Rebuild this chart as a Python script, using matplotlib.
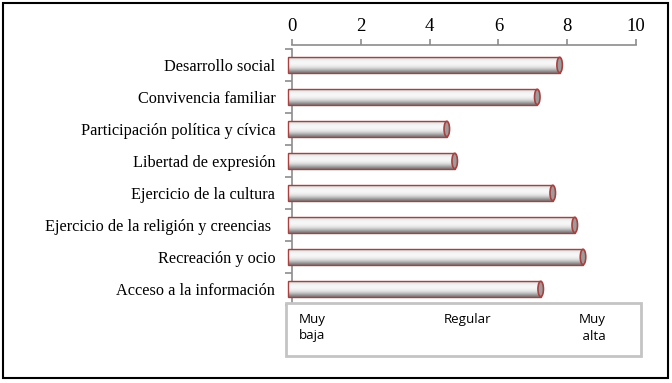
import matplotlib

matplotlib.use("Agg")
import matplotlib.pyplot as plt
import numpy as np
from matplotlib.patches import Ellipse, Rectangle

categories = [
    "Desarrollo social",
    "Convivencia familiar",
    "Participación política y cívica",
    "Libertad de expresión",
    "Ejercicio de la cultura",
    "Ejercicio de la religión y creencias ",
    "Recreación y ocio",
    "Acceso a la información",
]
values = [7.9, 7.25, 4.62, 4.85, 7.7, 8.34, 8.58, 7.35]
x_ticks = [0, 2, 4, 6, 8, 10]
scale_labels = ["Muy\nbaja", "Regular", "Muy\n alta"]

W, H = 672, 383
DEPTH = 0.12          # 3D look: front face shifted left
BAR_H = 0.48
EDGE = "#a94040"
AXIS_GRAY = "#8c8c8c"
SERIF = "Liberation Serif"

fig = plt.figure(figsize=(W / 100, H / 100), dpi=100)
ax = fig.add_axes([292 / W, 1 - 305 / H, (636 - 292) / W, (305 - 49) / H])

# vertical shading of the cylinder, top to bottom
shade = np.array([0.80, 0.90, 0.95, 0.97, 0.96, 0.93, 0.86, 0.74, 0.58, 0.46])
grad = np.interp(np.linspace(0, 1, 64), np.linspace(0, 1, len(shade)), shade)[:, None]

for i, v in enumerate(values):
    x0, x1 = -DEPTH, v - DEPTH
    ax.imshow(grad, cmap="gray", vmin=0, vmax=1, aspect="auto",
              extent=[x0, x1, i + BAR_H / 2, i - BAR_H / 2],
              interpolation="bicubic", zorder=3, clip_on=False)
    ax.add_patch(Rectangle((x0, i - BAR_H / 2), x1 - x0, BAR_H, fill=False,
                           edgecolor=EDGE, linewidth=1.0, zorder=3.1, clip_on=False))
    ax.add_patch(Ellipse((x1, i), 0.16, BAR_H, facecolor="#9c9c9c",
                         edgecolor=EDGE, linewidth=1.2, zorder=3.2, clip_on=False))

ax.set_xlim(0, 10)
ax.set_ylim(len(categories) - 0.5, -0.5)
ax.set_facecolor("none")

ax.xaxis.tick_top()
ax.set_xticks(x_ticks)
ax.set_xticklabels([str(t) for t in x_ticks])
ax.tick_params(axis="x", direction="out", length=4, width=1.2, color=AXIS_GRAY, pad=3,
               labelsize=13.5, labelfontfamily=SERIF)

ax.set_yticks(range(len(categories)))
ax.set_yticklabels(categories)
ax.set_yticks(np.arange(-0.5, len(categories), 1.0), minor=True)
ax.tick_params(axis="y", which="major", length=0, pad=12,
               labelsize=11.7, labelfontfamily=SERIF)
ax.tick_params(axis="y", which="minor", length=5, width=1.2, color=AXIS_GRAY)

for side in ["right", "bottom"]:
    ax.spines[side].set_visible(False)
ax.spines["top"].set_position(("outward", 3))
ax.spines["top"].set_color(AXIS_GRAY)
ax.spines["top"].set_linewidth(1.2)
ax.spines["left"].set_color(AXIS_GRAY)
ax.spines["left"].set_linewidth(1.2)

# rating scale box below the bars
fig.patches.append(Rectangle((286 / W, 1 - 356 / H), (641 - 286) / W, (356 - 303) / H,
                             transform=fig.transFigure, facecolor="white",
                             edgecolor="#c4c4c4", linewidth=2, zorder=5))
label_x = [299, 444, 579]
for px, lab in zip(label_x, scale_labels):
    fig.text(px / W, 1 - 313 / H, lab, ha="left", va="top", fontsize=9.6,
             fontfamily="Open Sans", linespacing=1.35, zorder=6)

# outer frame
fig.patches.append(Rectangle((2.5 / W, 1 - 378 / H), (668 - 2.5) / W, (378 - 2.5) / H,
                             transform=fig.transFigure, fill=False,
                             edgecolor="black", linewidth=1.5, zorder=7))

fig.savefig("out.png", dpi=100)
